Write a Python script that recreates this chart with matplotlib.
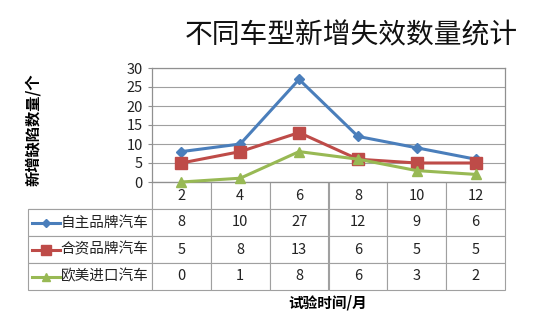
import matplotlib
matplotlib.use("Agg")
import matplotlib.pyplot as plt
from matplotlib.lines import Line2D

plt.rcParams['font.family'] = ['Noto Sans CJK SC', 'DejaVu Sans']

months = ["2", "4", "6", "8", "10", "12"]
series_names = ["自主品牌汽车", "合资品牌汽车", "欧美进口汽车"]
domestic = [8, 10, 27, 12, 9, 6]
joint = [5, 8, 13, 6, 5, 5]
imported = [0, 1, 8, 6, 3, 2]
yticks = [0, 5, 10, 15, 20, 25, 30]

colors = ["#4A7EBB", "#BE4B48", "#98B954"]
markers = ["D", "s", "^"]
msizes = [5, 8, 7]
values = [domestic, joint, imported]

fig = plt.figure(figsize=(5.54, 3.34), dpi=100)
ax = fig.add_axes([152 / 554, 1 - 182 / 334, 353 / 554, 114 / 334])

x = list(range(len(months)))
for vals, c, m, ms in zip(values, colors, markers, msizes):
    ax.plot(x, vals, color=c, lw=2.2, marker=m, ms=ms, zorder=3, clip_on=False)

ax.set_xlim(-0.5, len(months) - 0.5)
ax.set_ylim(0, 30)
ax.set_yticks(yticks)
ax.tick_params(axis='y', labelsize=10.5, length=3, color="#909090", colors="#222222")
ax.tick_params(axis='x', bottom=False, labelbottom=False)
ax.grid(axis='y', color="#A0A0A0", lw=0.8)
ax.set_axisbelow(True)
for s in ax.spines.values():
    s.set_color("#909090")
    s.set_linewidth(0.9)

# data table under the plot
cell_text = [[""] + months]
for name, vals in zip(series_names, values):
    cell_text.append([name] + [str(v) for v in vals])

name_w = 124 / 353
col_w = 1 / len(months)
tb_y0 = -108 / 114
tbl = ax.table(cellText=cell_text, colWidths=[name_w] + [col_w] * len(months),
               cellLoc='center', bbox=[-name_w, tb_y0, 1 + name_w, -tb_y0])
tbl.auto_set_font_size(False)
tbl.set_fontsize(10.5)
for (r, c), cell in tbl.get_celld().items():
    cell.set_edgecolor("#A0A0A0")
    cell.set_linewidth(0.8)
    cell.get_text().set_color("#222222")
    if c == 0:
        cell.PAD = 0.03
        cell.get_text().set_ha('right')
        cell._loc = 'right'
tbl[0, 0].visible_edges = 'BR'

# legend keys inside the table
row_h = -tb_y0 / 4
for i, (c, m, ms) in enumerate(zip(colors, markers, msizes)):
    yc = -row_h * (i + 1.5)
    ax.add_line(Line2D([-0.340, -0.262], [yc, yc], transform=ax.transAxes, color=c,
                       lw=2.2, clip_on=False))
    ax.add_line(Line2D([-0.301], [yc], transform=ax.transAxes, color=c, marker=m,
                       ms=ms - 1, clip_on=False))

fig.text(351 / 554, 1 - 35 / 334, "不同车型新增失效数量统计", fontsize=20,
         ha='center', va='center', color="#111111")
fig.text(33 / 554, 1 - 130 / 334, "新增缺陷数量/个", rotation=90, fontsize=11,
         fontweight='bold', ha='center', va='center')
fig.text(328 / 554, 1 - 303 / 334, "试验时间/月", fontsize=10.5, fontweight='bold',
         ha='center', va='center')

fig.savefig("out.png", dpi=100)
